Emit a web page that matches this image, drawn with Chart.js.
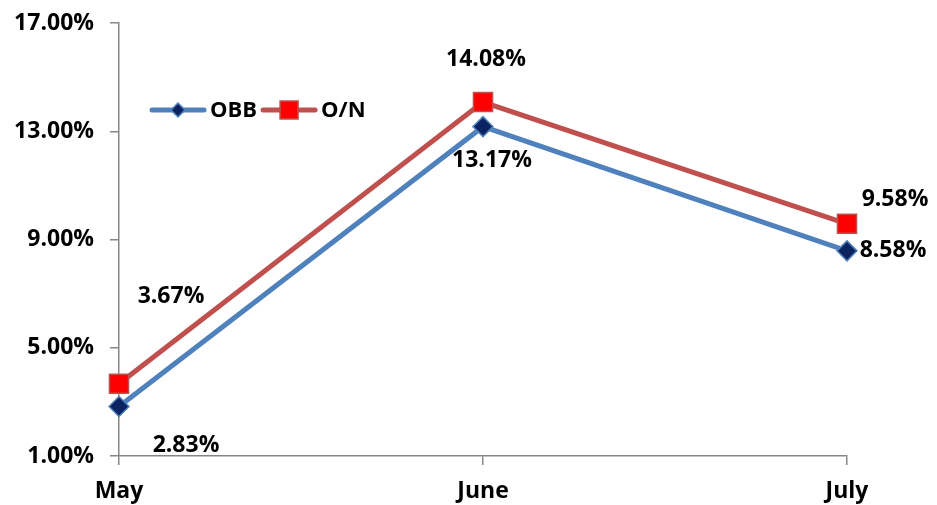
<!DOCTYPE html>
<html>
<head>
<meta charset="utf-8">
<script src="https://cdn.jsdelivr.net/npm/chart.js@4/dist/chart.umd.min.js"></script>
<style>
  html, body { margin: 0; padding: 0; background: #ffffff; }
  #wrap { width: 937px; height: 505px; position: relative; }
</style>
</head>
<body>
<div id="wrap"><canvas id="c" width="937" height="505"></canvas></div>
<script>
// Monthly rates
const months = ['May', 'June', 'July'];
const obbRates = [2.83, 13.17, 8.58];
const onRates = [3.67, 14.08, 9.58];
const yTicks = [1, 5, 9, 13, 17];

// Where each value label sits relative to its point (dx, dy in px)
const obbLabelOffsets = [[67, 39], [9, 34], [46, 0]];
const onLabelOffsets = [[52, -87], [3, -43], [48, -24]];

const FONT = '"Open Sans", Lato, sans-serif';
const WEIGHT = 'bold';
const FONT_SIZE = 23;
const AXIS_GREY = '#868686';
const BLUE = '#4F81BD';
const RED = '#C0504D';

const valueLabels = {
  id: 'valueLabels',
  afterDatasetsDraw(chart) {
    const ctx = chart.ctx;
    ctx.save();
    ctx.font = WEIGHT + ' ' + FONT_SIZE + 'px ' + FONT;
    ctx.fillStyle = '#000';
    ctx.textAlign = 'center';
    ctx.textBaseline = 'middle';
    chart.data.datasets.forEach((ds, i) => {
      const meta = chart.getDatasetMeta(i);
      meta.data.forEach((pt, j) => {
        const [dx, dy] = ds.labelOffsets[j];
        ctx.fillText(ds.data[j].toFixed(2) + '%', pt.x + dx, pt.y + dy);
      });
    });
    ctx.restore();
  }
};

// Legend drawn inside the plot area, upper left
const insideLegend = {
  id: 'insideLegend',
  afterDatasetsDraw(chart) {
    const ctx = chart.ctx;
    ctx.save();
    const y = 110;
    let x = 150;
    chart.data.datasets.forEach(ds => {
      ctx.strokeStyle = ds.borderColor;
      ctx.lineWidth = 5;
      ctx.lineCap = 'round';
      ctx.beginPath();
      ctx.moveTo(x + 2, y);
      ctx.lineTo(x + 54, y);
      ctx.stroke();
      const cx = x + 28;
      ctx.fillStyle = ds.pointBackgroundColor;
      ctx.strokeStyle = ds.pointBorderColor;
      ctx.lineWidth = ds.pointBorderWidth;
      ctx.beginPath();
      if (ds.pointStyle === 'rectRot') {
        const r = 7;
        ctx.moveTo(cx, y - r); ctx.lineTo(cx + r, y); ctx.lineTo(cx, y + r); ctx.lineTo(cx - r, y);
        ctx.closePath();
      } else {
        const h = 9;
        ctx.rect(cx - h, y - h, 2 * h, 2 * h);
      }
      ctx.fill();
      ctx.stroke();
      ctx.fillStyle = '#000';
      ctx.font = WEIGHT + ' 22px ' + FONT;
      ctx.textAlign = 'left';
      ctx.textBaseline = 'middle';
      ctx.fillText(ds.label, x + 60, y + 1);
      x += 60 + ctx.measureText(ds.label).width + 4;
    });
    ctx.restore();
  }
};

new Chart(document.getElementById('c'), {
  type: 'line',
  data: {
    labels: months,
    datasets: [
      {
        label: 'OBB',
        data: obbRates,
        labelOffsets: obbLabelOffsets,
        borderColor: BLUE,
        borderWidth: 5,
        pointStyle: 'rectRot',
        pointRadius: 10,
        pointHoverRadius: 10,
        pointBackgroundColor: '#0B2361',
        pointBorderColor: '#4F81BD',
        pointBorderWidth: 1.5,
        tension: 0
      },
      {
        label: 'O/N',
        data: onRates,
        labelOffsets: onLabelOffsets,
        borderColor: RED,
        borderWidth: 5,
        pointStyle: 'rect',
        pointRadius: 13.5,
        pointHoverRadius: 13.5,
        pointBackgroundColor: '#FF0000',
        pointBorderColor: '#C0504D',
        pointBorderWidth: 1.5,
        tension: 0
      }
    ]
  },
  options: {
    responsive: false,
    animation: false,
    layout: { padding: { top: 23, right: 90, left: 0, bottom: 0 } },
    plugins: {
      legend: { display: false },
      tooltip: { enabled: false }
    },
    scales: {
      x: {
        type: 'category',
        offset: false,
        grid: {
          offset: false,
          drawOnChartArea: false,
          drawTicks: true,
          tickLength: 9,
          color: AXIS_GREY,
          lineWidth: 1.5
        },
        border: { display: true, color: AXIS_GREY, width: 1.5 },
        ticks: {
          color: '#000',
          font: { family: FONT, size: FONT_SIZE, weight: WEIGHT },
          padding: 13,
          maxRotation: 0
        },
        afterFit(scale) {
          scale.height = 49;
          scale.paddingLeft = 0;
          scale.paddingRight = 0;
        }
      },
      y: {
        min: yTicks[0],
        max: yTicks[yTicks.length - 1],
        afterBuildTicks(scale) { scale.ticks = yTicks.map(v => ({ value: v })); },
        grid: {
          drawOnChartArea: false,
          drawTicks: true,
          tickLength: 9,
          color: AXIS_GREY,
          lineWidth: 1.5
        },
        border: { display: true, color: AXIS_GREY, width: 1.5 },
        ticks: {
          color: '#000',
          font: { family: FONT, size: FONT_SIZE, weight: WEIGHT },
          padding: 16,
          callback: v => Number(v).toFixed(2) + '%'
        },
        afterFit(scale) {
          scale.width = 119;
          scale.paddingTop = 0;
          scale.paddingBottom = 0;
        }
      }
    }
  },
  plugins: [valueLabels, insideLegend]
});
</script>
</body>
</html>
